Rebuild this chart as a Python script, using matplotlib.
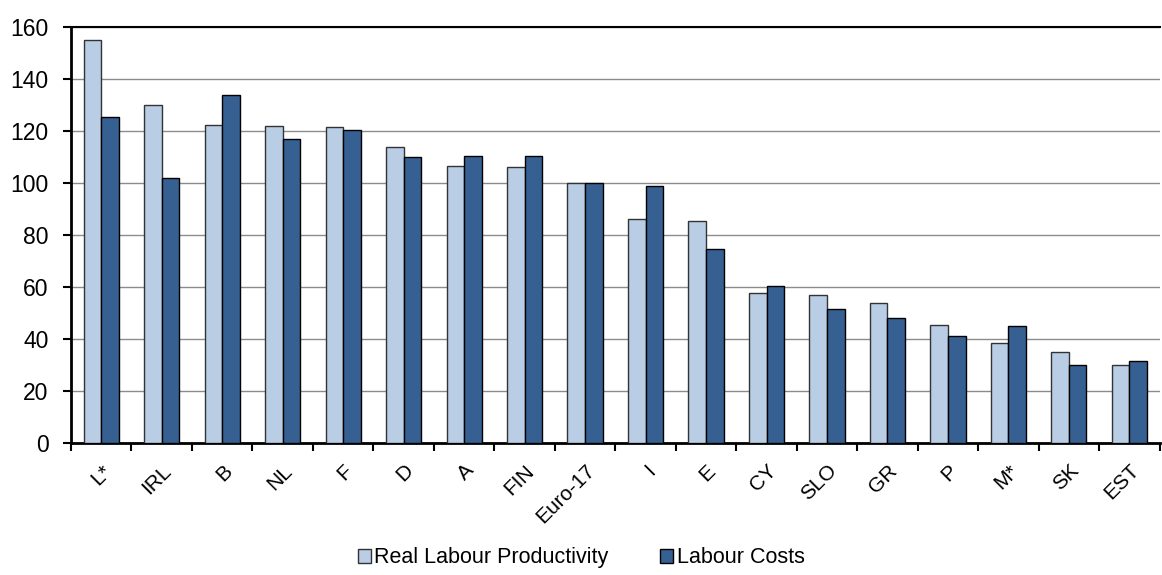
import numpy as np
import matplotlib.pyplot as plt

plt.rcParams['font.family'] = ['Liberation Sans', 'DejaVu Sans']

countries = ["L*", "IRL", "B", "NL", "F", "D", "A", "FIN", "Euro-17", "I", "E",
             "CY", "SLO", "GR", "P", "M*", "SK", "EST"]
productivity = [155, 130, 122.5, 122, 121.5, 114, 106.5, 106, 100, 86, 85.5,
                57.5, 57, 54, 45.5, 38.5, 35, 30]
labour_costs = [125.5, 102, 134, 117, 120.5, 110, 110.5, 110.5, 100, 99, 74.5,
                60.5, 51.5, 48, 41, 45, 30, 31.5]

fig = plt.figure(figsize=(11.62, 5.75), dpi=100)
ax = fig.add_axes([0.061, 0.2296, 0.937, 0.7234])

x = np.arange(len(countries))
w = 0.29
ax.bar(x - w/2, productivity, w, color="#B9CDE5", edgecolor="#333333", linewidth=1,
       label="Real Labour Productivity", zorder=3)
ax.bar(x + w/2, labour_costs, w, color="#366092", edgecolor="black", linewidth=1,
       label="Labour Costs", zorder=3)

ax.set_xlim(-0.5, len(countries) - 0.5)
ax.set_ylim(0, 160)
ax.set_yticks(range(0, 161, 20))
ax.yaxis.grid(True, color="#8c8c8c", linewidth=1, zorder=0)
ax.set_axisbelow(True)

ax.spines["right"].set_visible(False)
ax.spines["top"].set_linewidth(1.5)
ax.spines["left"].set_linewidth(2)
ax.spines["bottom"].set_linewidth(2)

# ticks at group boundaries, labels at centres
ax.set_xticks(np.arange(-0.5, len(countries), 1))
ax.set_xticklabels([])
ax.set_xticks(x, minor=True)
ax.set_xticklabels(countries, minor=True, rotation=45, ha="right",
                   rotation_mode="anchor", fontsize=15)
ax.tick_params(axis="x", which="minor", length=0, pad=13)
ax.tick_params(axis="x", which="major", length=6, width=1.5, direction="out")
ax.tick_params(axis="y", length=6, width=1.5, labelsize=16.5, pad=10)

fig.legend(loc="lower center", bbox_to_anchor=(0.5, -0.022), ncol=2, frameon=False,
           fontsize=15.5, handlelength=0.62, handleheight=0.62, handletextpad=0.15,
           columnspacing=2.4)

fig.savefig("out.png", dpi=100)
